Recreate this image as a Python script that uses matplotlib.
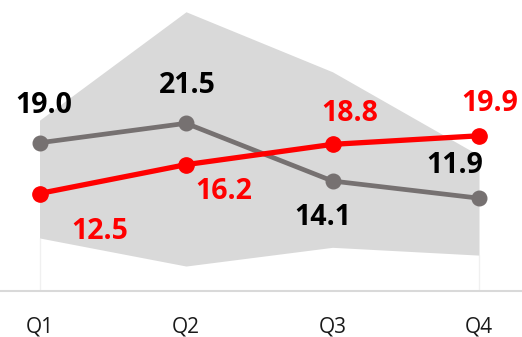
import matplotlib
matplotlib.use("Agg")
import matplotlib.pyplot as plt
import matplotlib.transforms as mtransforms
import numpy as np

categories = ["Q1", "Q2", "Q3", "Q4"]
band_upper = [21.9, 35.8, 28.1, 17.4]
band_lower = [6.8, 3.2, 5.6, 4.6]
grey_values = [19.0, 21.5, 14.1, 11.9]
red_values = [12.5, 16.2, 18.8, 19.9]

grey_offsets = [(4, 37), (1, 38), (-10, -36), (-24, 33)]
red_offsets = [(60, -38), (38, -27), (17, 31), (11, 32)]

W, H, DPI = 522, 337, 100
AXIS_Y = 291
fig = plt.figure(figsize=(W / DPI, H / DPI), dpi=DPI)
ax = fig.add_axes([0, (H - AXIS_Y) / H, 1, AXIS_Y / H])

x = np.arange(len(categories))
ax.fill_between(x, band_lower, band_upper, color="#D9D9D9", linewidth=0, zorder=1)
ax.vlines([x[0], x[-1]], 0, [band_lower[0], band_lower[-1]], color="#F0F0F0", linewidth=1, zorder=0)

ax.plot(x, grey_values, color="#767171", linewidth=3.4, marker="o", markersize=10.5, zorder=3)
ax.plot(x, red_values, color="#FF0000", linewidth=3.8, marker="o", markersize=11, zorder=4)

font = "Open Sans"
for xi, v, off in zip(x, grey_values, grey_offsets):
    ax.annotate(f"{v:.1f}", (xi, v), xytext=off, textcoords="offset pixels",
                ha="center", va="center", fontsize=20.5, fontweight="bold",
                color="black", family=font, zorder=5)
for xi, v, off in zip(x, red_values, red_offsets):
    ax.annotate(f"{v:.1f}", (xi, v), xytext=off, textcoords="offset pixels",
                ha="center", va="center", fontsize=20.5, fontweight="bold",
                color="#FF0000", family=font, zorder=5)

ax.set_xlim(-39.5 / 146.5, 3 + 43 / 146.5)
ax.set_ylim(0, AXIS_Y / 7.8)
ax.set_yticks([])
ax.set_xticks([])
trans = mtransforms.blended_transform_factory(ax.transData, ax.transAxes)
for xi, lab in zip(x, categories):
    ax.text(xi, -(333 - AXIS_Y) / AXIS_Y, lab, transform=trans, ha="center",
            va="baseline", fontsize=15, family=font, color="#1a1a1a", clip_on=False)
for s in ["top", "right", "left"]:
    ax.spines[s].set_visible(False)
ax.spines["bottom"].set_color("#D9D9D9")
ax.spines["bottom"].set_linewidth(1.5)
ax.patch.set_alpha(0)

fig.savefig("out.png", dpi=DPI)
